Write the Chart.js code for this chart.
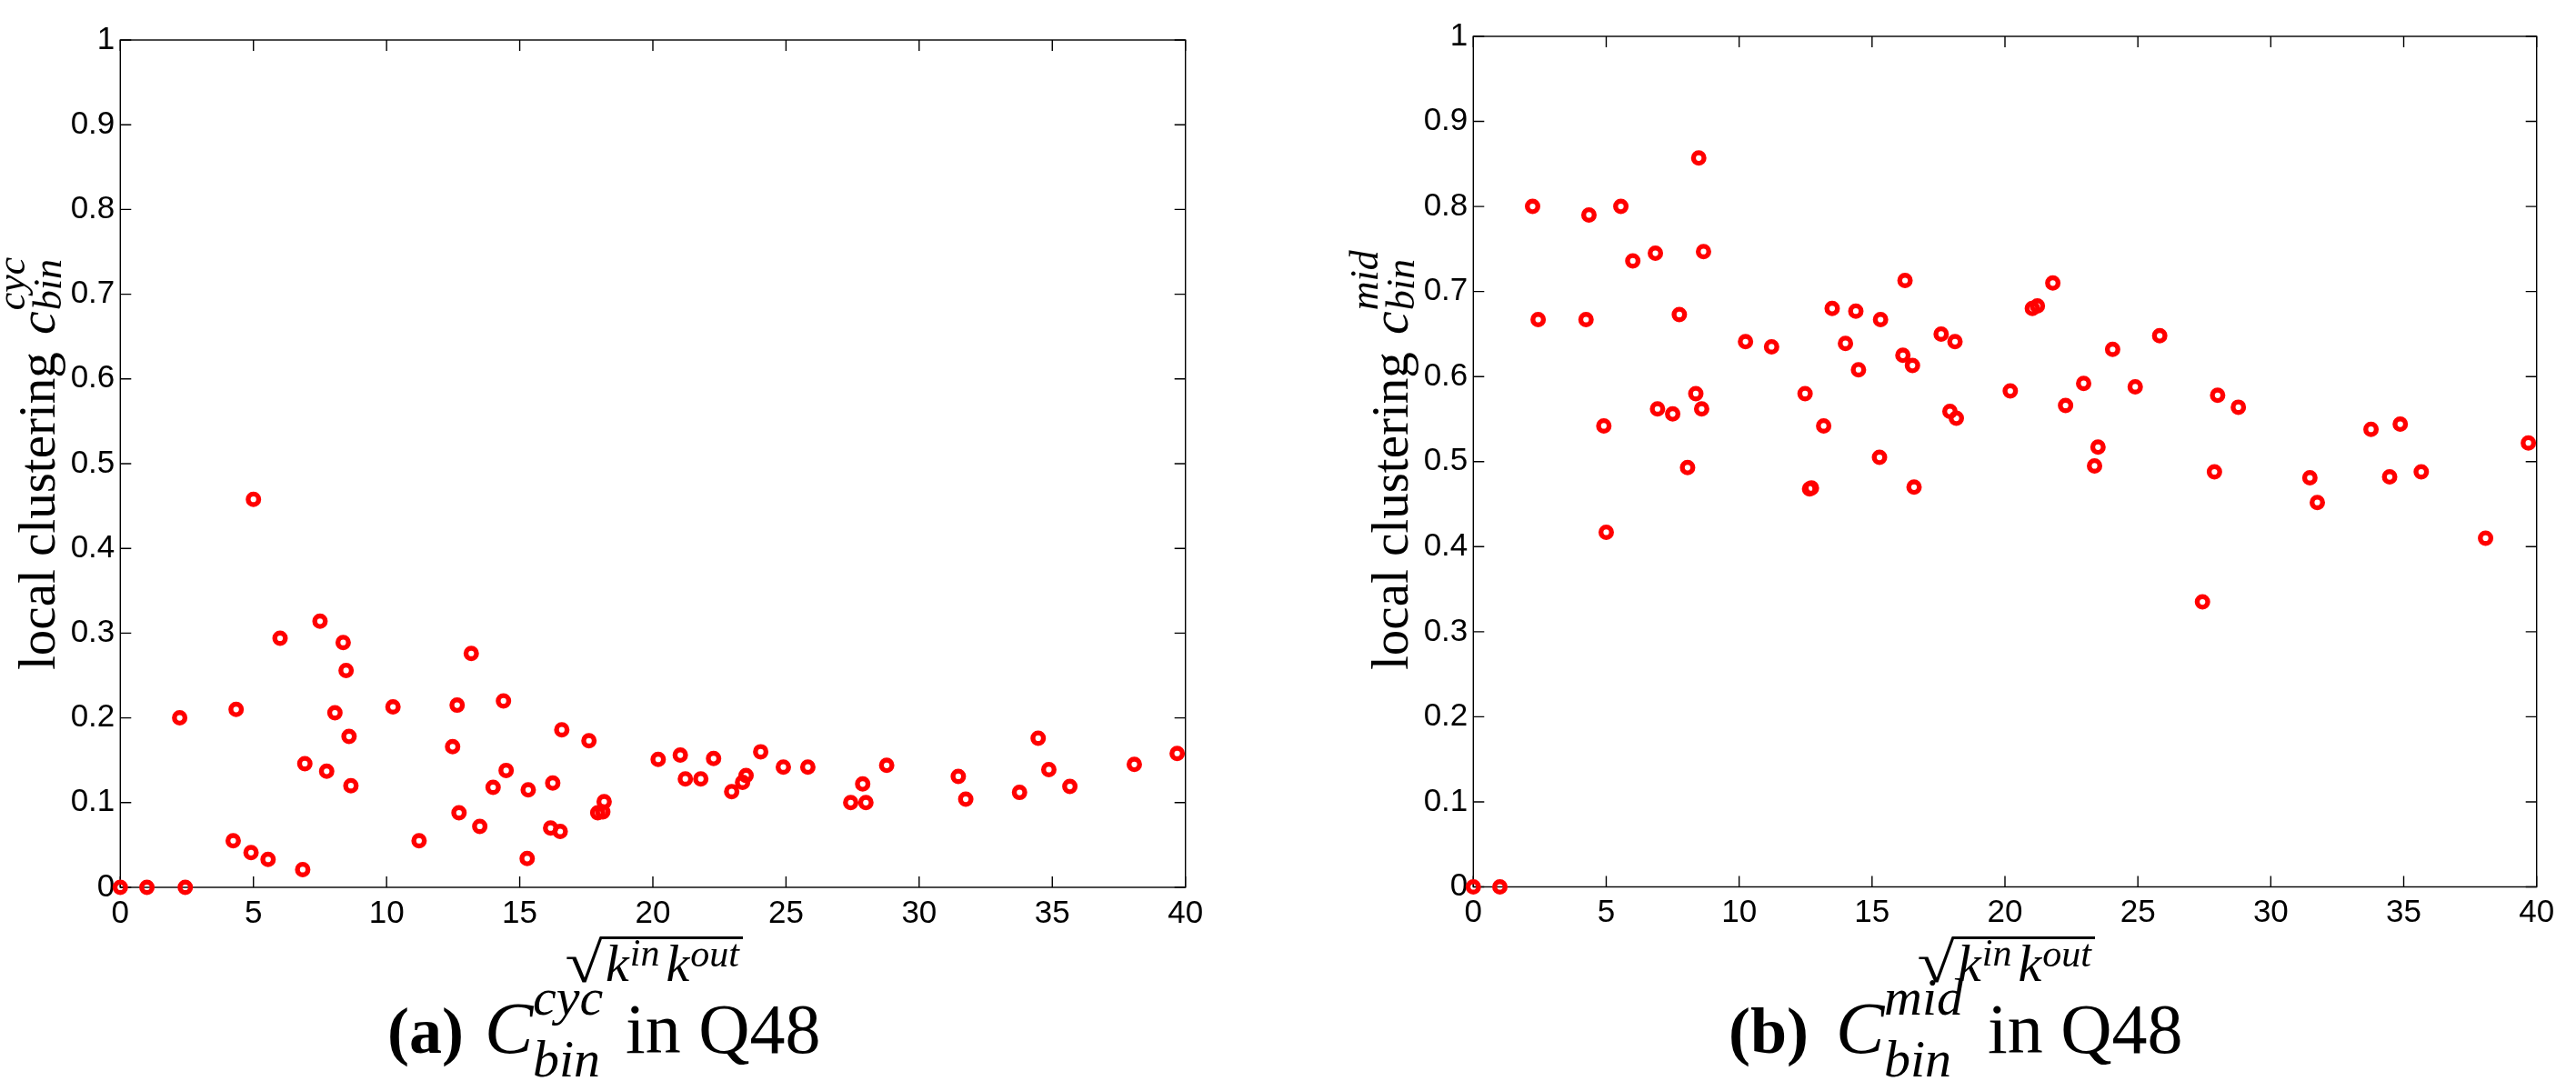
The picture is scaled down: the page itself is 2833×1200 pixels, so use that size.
<!DOCTYPE html>
<html>
<head>
<meta charset="utf-8">
<script src="https://cdn.jsdelivr.net/npm/chart.js@4.4.1/dist/chart.umd.min.js"></script>
<style>
  html, body { margin: 0; padding: 0; background: #fff; }
  body { width: 2833px; height: 1200px; position: relative; overflow: hidden; }
  .panel { position: absolute; left: 0; top: 0; width: 2833px; height: 1200px; }
</style>
</head>
<body>
<div class="panel"><canvas id="chartCyc" width="2833" height="1200"></canvas></div>
<div class="panel"><canvas id="chartMid" width="2833" height="1200"></canvas></div>
<script>
// sqrt(k_in * k_out) of each degree bin, same bins in both panels
const degree = [0, 1.0, 2.23, 2.44, 4.24, 4.35, 4.91, 5.0, 5.55, 6.0,
    6.85, 6.93, 7.5, 7.75, 8.06, 8.37, 8.48, 8.59, 8.66, 10.24,
    11.22, 12.48, 12.65, 12.72, 13.18, 13.5, 14.0, 14.39, 14.49, 15.28,
    15.32, 16.16, 16.24, 16.52, 16.58, 17.6, 17.93, 18.12, 18.17, 20.2,
    21.03, 21.22, 21.8, 22.28, 22.96, 23.37, 23.5, 24.05, 24.9, 25.82,
    27.43, 27.88, 28.0, 28.78, 31.47, 31.75, 33.77, 34.47, 34.87, 35.66,
    38.08, 39.69];

// (a) cycle clustering
const cycClustering = [0, 0, 0.20, 0, 0.055, 0.21, 0.041, 0.458, 0.033, 0.294,
    0.021, 0.146, 0.314, 0.137, 0.206, 0.289, 0.256, 0.178, 0.12, 0.213,
    0.055, 0.166, 0.215, 0.088, 0.276, 0.072, 0.118, 0.22, 0.138, 0.034,
    0.115, 0.07, 0.123, 0.066, 0.186, 0.173, 0.088, 0.089, 0.101, 0.151,
    0.156, 0.128, 0.128, 0.152, 0.113, 0.124, 0.132, 0.16, 0.142, 0.142,
    0.1, 0.122, 0.1, 0.144, 0.131, 0.104, 0.112, 0.176, 0.139, 0.119,
    0.145, 0.158];

// (b) middleman clustering
const midClustering = [0, 0, 0.80, 0.667, 0.667, 0.79, 0.542, 0.417, 0.80, 0.736,
    0.745, 0.562, 0.556, 0.673, 0.493, 0.58, 0.857, 0.562, 0.747, 0.641,
    0.635, 0.58, 0.468, 0.469, 0.542, 0.68, 0.639, 0.677, 0.608, 0.505,
    0.667, 0.625, 0.713, 0.613, 0.47, 0.65, 0.559, 0.641, 0.551, 0.583,
    0.68, 0.683, 0.71, 0.566, 0.592, 0.495, 0.517, 0.632, 0.588, 0.648,
    0.335, 0.488, 0.578, 0.564, 0.481, 0.452, 0.538, 0.482, 0.544, 0.488,
    0.41, 0.522];

const xTicks = [0, 5, 10, 15, 20, 25, 30, 35, 40];
const yTicks = [0, 0.1, 0.2, 0.3, 0.4, 0.5, 0.6, 0.7, 0.8, 0.9, 1];

const SERIF = '"Liberation Serif", "Times New Roman", serif';
const SANS = '"Liberation Sans", Arial, Helvetica, sans-serif';

// matlab style box with inward ticks on all four sides
const boxTicks = {
    id: 'boxTicks',
    beforeDatasetsDraw(chart) {
        const { ctx, chartArea: a, scales } = chart;
        const len = 12;
        ctx.save();
        ctx.strokeStyle = '#000';
        ctx.lineWidth = 1.4;
        ctx.strokeRect(a.left, a.top, a.right - a.left, a.bottom - a.top);
        ctx.beginPath();
        scales.x.ticks.forEach(t => {
            const px = scales.x.getPixelForValue(t.value);
            ctx.moveTo(px, a.bottom); ctx.lineTo(px, a.bottom - len);
            ctx.moveTo(px, a.top); ctx.lineTo(px, a.top + len);
        });
        scales.y.ticks.forEach(t => {
            const py = scales.y.getPixelForValue(t.value);
            ctx.moveTo(a.left, py); ctx.lineTo(a.left + len, py);
            ctx.moveTo(a.right, py); ctx.lineTo(a.right - len, py);
        });
        ctx.stroke();
        ctx.restore();
    }
};

function drawYTitle(ctx, t) {
    ctx.save();
    ctx.translate(t.x, t.y);
    ctx.rotate(-Math.PI / 2);
    ctx.font = `57px ${SERIF}`;
    ctx.fillText('local clustering', 0, 0);
    let w = ctx.measureText('local clustering ').width + 5;
    ctx.font = `italic 58px ${SERIF}`;
    ctx.fillText('c', w, 0);
    w += ctx.measureText('c').width + 1;
    ctx.font = `italic 44px ${SERIF}`;
    ctx.fillText(t.sup, w, -33);
    ctx.fillText(t.sub, w, 7);
    ctx.restore();
}

function drawXTitle(ctx, t) {
    const radW = 40, radH = 51;
    ctx.save();
    ctx.font = `100px ${SERIF}`;
    const m = ctx.measureText('√');
    const gh = m.actualBoundingBoxAscent + m.actualBoundingBoxDescent;
    const gw = m.actualBoundingBoxLeft + m.actualBoundingBoxRight;
    ctx.translate(t.x, t.top);
    ctx.scale(radW / gw, radH / gh);
    ctx.fillText('√', m.actualBoundingBoxLeft, m.actualBoundingBoxAscent);
    ctx.restore();

    ctx.save();
    ctx.strokeStyle = '#000';
    ctx.lineWidth = 3;
    ctx.beginPath();
    ctx.moveTo(t.x + radW - 3, t.top + 1.5);
    ctx.lineTo(t.end, t.top + 1.5);
    ctx.stroke();
    ctx.restore();

    let x = t.x + radW + 3;
    ctx.font = `italic 58px ${SERIF}`;
    ctx.fillText('k', x, t.base);
    x += ctx.measureText('k').width + 1;
    ctx.font = `italic 42px ${SERIF}`;
    ctx.fillText('in', x, t.base - 17);
    x += ctx.measureText('in').width + 7;
    ctx.font = `italic 58px ${SERIF}`;
    ctx.fillText('k', x, t.base);
    x += ctx.measureText('k').width + 1;
    ctx.font = `italic 42px ${SERIF}`;
    ctx.fillText('out', x, t.base - 16);
}

function drawCaption(ctx, c) {
    ctx.font = `bold 72px ${SERIF}`;
    ctx.fillText(c.tag, c.tagX, 1158);
    ctx.font = `italic 80px ${SERIF}`;
    ctx.fillText('C', c.symX, 1158);
    ctx.font = `italic 58px ${SERIF}`;
    ctx.fillText(c.sup, c.scrX, 1116);
    ctx.fillText(c.sub, c.scrX, 1184);
    ctx.font = `78px ${SERIF}`;
    ctx.fillText('in Q48', c.tailX, 1158);
}

const mathLabels = {
    id: 'mathLabels',
    afterDraw(chart, args, o) {
        const ctx = chart.ctx;
        ctx.save();
        ctx.fillStyle = '#000';
        ctx.textBaseline = 'alphabetic';
        ctx.textAlign = 'left';
        drawYTitle(ctx, o.yTitle);
        drawXTitle(ctx, o.xTitle);
        drawCaption(ctx, o.caption);
        ctx.restore();
    }
};

function makeChart(id, values, pad, labels) {
    const points = degree.map((d, i) => ({ x: d, y: values[i] }));
    return new Chart(document.getElementById(id), {
        type: 'scatter',
        data: {
            datasets: [{
                data: points,
                showLine: false,
                clip: false,
                pointStyle: 'circle',
                pointRadius: 5.8,
                pointHoverRadius: 5.8,
                pointBorderWidth: 5.4,
                pointBorderColor: '#ff0000',
                pointBackgroundColor: 'rgba(0,0,0,0)'
            }]
        },
        options: {
            responsive: false,
            animation: false,
            events: [],
            layout: { padding: pad },
            scales: {
                x: {
                    type: 'linear',
                    min: 0,
                    max: 40,
                    afterBuildTicks: axis => { axis.ticks = xTicks.map(v => ({ value: v })); },
                    afterFit: s => { s.height = 100; },
                    grid: { display: false, drawTicks: false },
                    border: { display: false },
                    ticks: {
                        font: { family: SANS, size: 35 },
                        color: '#000',
                        padding: 8,
                        maxRotation: 0,
                        autoSkip: false,
                        callback: v => String(v)
                    }
                },
                y: {
                    type: 'linear',
                    min: 0,
                    max: 1,
                    afterBuildTicks: axis => { axis.ticks = yTicks.map(v => ({ value: v })); },
                    afterFit: s => { s.width = 100; },
                    grid: { display: false, drawTicks: false },
                    border: { display: false },
                    ticks: {
                        font: { family: SANS, size: 35 },
                        color: '#000',
                        padding: 6,
                        autoSkip: false,
                        callback: v => String(Number(v.toFixed(1)))
                    }
                }
            },
            plugins: {
                legend: { display: false },
                tooltip: { enabled: false },
                mathLabels: labels
            }
        },
        plugins: [boxTicks, mathLabels]
    });
}

makeChart('chartCyc', cycClustering,
    { left: 32.3, top: 44, right: 1529.3, bottom: 124 },
    {
        yTitle: { x: 60, y: 737, sup: 'cyc', sub: 'bin' },
        xTitle: { x: 623, top: 1030, base: 1079, end: 817 },
        caption: { tag: '(a)', tagX: 426, symX: 533, scrX: 586, sup: 'cyc', sub: 'bin', tailX: 688 }
    });

makeChart('chartMid', midClustering,
    { left: 1520.3, top: 40, right: 43.3, bottom: 124.5 },
    {
        yTitle: { x: 1548, y: 737, sup: 'mid', sub: 'bin' },
        xTitle: { x: 2110, top: 1030, base: 1079, end: 2304 },
        caption: { tag: '(b)', tagX: 1901, symX: 2019, scrX: 2072, sup: 'mid', sub: 'bin', tailX: 2186 }
    });
</script>
</body>
</html>
